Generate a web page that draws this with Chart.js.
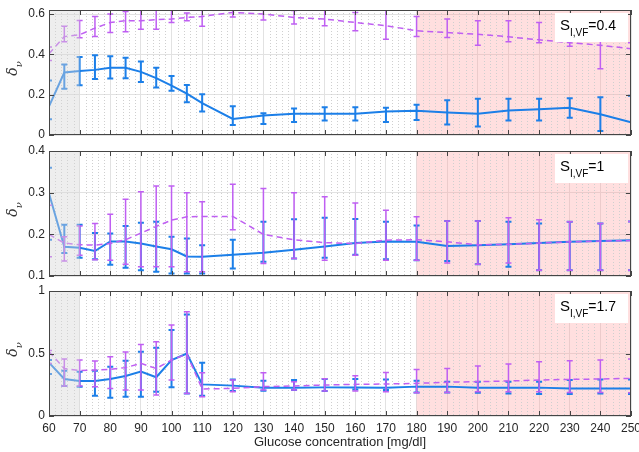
<!DOCTYPE html>
<html>
<head>
<meta charset="utf-8">
<script src="https://cdn.jsdelivr.net/npm/chart.js@4.4.1/dist/chart.umd.min.js"></script>
<style>
  body { margin: 0; background: #fff; }
  #wrap { position: relative; width: 639px; height: 452px; }
  canvas { position: absolute; left: 0; }
</style>
</head>
<body>
<div id="wrap">
  <canvas id="c1" width="639" height="140" style="top:0px"></canvas>
  <canvas id="c2" width="639" height="140" style="top:140px"></canvas>
  <canvas id="c3" width="639" height="172" style="top:280px"></canvas>
</div>
<script>
// glucose levels [mg/dl]
const glucose = [60, 65, 70, 75, 80, 85, 90, 95, 100, 105, 110, 120, 130, 140, 150, 160, 170, 180, 190, 200, 210, 220, 230, 240, 250];
const xTicks = [60, 70, 80, 90, 100, 110, 120, 130, 140, 150, 160, 170, 180, 190, 200, 210, 220, 230, 240, 250];

// S_I,VF = 0.4
const topBlue     = [0.142, 0.31, 0.317, 0.323, 0.333, 0.333, 0.313, 0.282, 0.245, 0.205, 0.158, 0.08, 0.097, 0.105, 0.105, 0.105, 0.117, 0.12, 0.112, 0.105, 0.122, 0.128, 0.135, 0.103, 0.063];
const topBlueLo   = [0.078, 0.23, 0.247, 0.278, 0.28, 0.282, 0.263, 0.235, 0.22, 0.163, 0.117, 0.05, 0.055, 0.065, 0.072, 0.072, 0.065, 0.075, 0.052, 0.042, 0.072, 0.072, 0.085, 0.02, -0.05];
const topBlueHi   = [0.27, 0.35, 0.387, 0.395, 0.39, 0.383, 0.365, 0.333, 0.293, 0.248, 0.202, 0.142, 0.108, 0.132, 0.138, 0.138, 0.135, 0.15, 0.172, 0.18, 0.18, 0.18, 0.182, 0.187, 0.195];
const topPurple   = [0.403, 0.488, 0.497, 0.53, 0.558, 0.567, 0.567, 0.572, 0.575, 0.583, 0.588, 0.608, 0.6, 0.583, 0.575, 0.558, 0.542, 0.517, 0.508, 0.5, 0.487, 0.472, 0.458, 0.445, 0.428];
const topPurpleLo = [0.37, 0.462, 0.482, 0.488, 0.508, 0.512, 0.525, 0.525, 0.558, 0.567, 0.54, 0.585, 0.57, 0.55, 0.542, 0.517, 0.475, 0.488, 0.483, 0.445, 0.463, 0.458, 0.44, 0.328, -0.05];
const topPurpleHi = [0.437, 0.54, 0.568, 0.588, 0.6, 0.613, 0.63, 0.63, 0.62, 0.605, 0.63, 0.63, 0.63, 0.617, 0.63, 0.608, 0.62, 0.588, 0.575, 0.567, 0.567, 0.558, 0.52, 0.467, 0.458];

// S_I,VF = 1
const midBlue     = [0.298, 0.17, 0.168, 0.16, 0.183, 0.183, 0.178, 0.171, 0.164, 0.147, 0.146, 0.151, 0.156, 0.163, 0.171, 0.179, 0.183, 0.182, 0.172, 0.174, 0.176, 0.179, 0.182, 0.184, 0.186];
const midBlueLo   = [0.187, 0.155, 0.144, 0.14, 0.127, 0.12, 0.114, 0.11, 0.106, 0.106, 0.106, 0.118, 0.134, 0.142, 0.144, 0.151, 0.14, 0.138, 0.136, 0.128, 0.122, 0.114, 0.114, 0.114, 0.114];
const midBlueHi   = [0.36, 0.223, 0.223, 0.203, 0.202, 0.22, 0.228, 0.23, 0.194, 0.19, 0.174, 0.187, 0.23, 0.236, 0.24, 0.237, 0.23, 0.221, 0.232, 0.232, 0.23, 0.226, 0.23, 0.226, 0.231];
const midPurple   = [0.2, 0.179, 0.175, 0.174, 0.178, 0.187, 0.203, 0.219, 0.234, 0.242, 0.243, 0.243, 0.2, 0.187, 0.18, 0.178, 0.186, 0.187, 0.182, 0.175, 0.176, 0.179, 0.182, 0.184, 0.185];
const midPurpleLo = [0.146, 0.136, 0.15, 0.139, 0.138, 0.128, 0.122, 0.122, 0.122, 0.11, 0.11, 0.211, 0.13, 0.142, 0.138, 0.15, 0.138, 0.138, 0.131, 0.128, 0.131, 0.114, 0.114, 0.114, 0.114];
const midPurpleHi = [0.27, 0.194, 0.22, 0.226, 0.248, 0.284, 0.302, 0.316, 0.316, 0.3, 0.278, 0.32, 0.31, 0.3, 0.29, 0.275, 0.258, 0.242, 0.232, 0.232, 0.24, 0.235, 0.23, 0.226, 0.231];

// S_I,VF = 1.7
const botBlue     = [0.427, 0.296, 0.28, 0.28, 0.296, 0.32, 0.355, 0.31, 0.448, 0.5, 0.253, 0.243, 0.227, 0.227, 0.229, 0.229, 0.227, 0.235, 0.235, 0.227, 0.227, 0.227, 0.221, 0.221, 0.221];
const botBlueLo   = [0.336, 0.24, 0.235, 0.163, 0.147, 0.155, 0.155, 0.195, 0.23, 0.18, 0.163, 0.2, 0.203, 0.208, 0.2, 0.213, 0.208, 0.189, 0.189, 0.187, 0.181, 0.176, 0.176, 0.181, 0.176];
const botBlueHi   = [0.448, 0.363, 0.355, 0.363, 0.395, 0.443, 0.515, 0.547, 0.688, 0.813, 0.427, 0.293, 0.283, 0.288, 0.296, 0.296, 0.293, 0.283, 0.275, 0.275, 0.275, 0.275, 0.288, 0.293, 0.293];
const botPurple   = [0.515, 0.38, 0.363, 0.368, 0.373, 0.387, 0.421, 0.38, 0.448, 0.496, 0.216, 0.221, 0.235, 0.24, 0.248, 0.253, 0.256, 0.261, 0.27, 0.275, 0.28, 0.288, 0.293, 0.296, 0.301];
const botPurpleLo = [0.42, 0.24, 0.24, 0.235, 0.22, 0.208, 0.208, 0.168, 0.288, 0.18, 0.155, 0.195, 0.208, 0.208, 0.2, 0.2, 0.195, 0.187, 0.189, 0.195, 0.195, 0.195, 0.189, 0.189, 0.187];
const botPurpleHi = [0.525, 0.456, 0.448, 0.44, 0.475, 0.512, 0.573, 0.595, 0.728, 0.835, 0.347, 0.288, 0.347, 0.275, 0.299, 0.323, 0.349, 0.373, 0.381, 0.4, 0.416, 0.435, 0.443, 0.448, 0.456];

const yTicksTop = [0, 0.2, 0.4, 0.6];
const yTicksMid = [0.1, 0.2, 0.3, 0.4];
const yTicksBot = [0, 0.5, 1];
const panelLabels = ['0.4', '1', '1.7'];
const grayBand = [60, 70];
const pinkBand = [180, 250];

const BLUE = '#1c7fe8';
const PURPLE = '#bf5ff2';
const TEXT = '#262626';
const FONT = '"Liberation Sans", Arial, sans-serif';

const toXY = (ys) => ys.map((v, i) => ({ x: glucose[i], y: v }));

const panelDecor = {
  id: 'panelDecor',
  beforeDatasetsDraw(chart) {
    const { ctx, chartArea: a, scales: { x } } = chart;
    ctx.save();
    // pink band (hyperglycemia)
    const p0 = x.getPixelForValue(pinkBand[0]), p1 = x.getPixelForValue(pinkBand[1]);
    ctx.fillStyle = 'rgba(255,150,150,0.3)';
    ctx.fillRect(p0, a.top, p1 - p0, a.bottom - a.top);
    // minor dotted grid
    ctx.strokeStyle = '#cfcfcf';
    ctx.lineWidth = 1;
    ctx.setLineDash([1, 2]);
    for (let v = 62; v < 250; v += 2) {
      if (v % 10 === 0) continue;
      const px = Math.round(x.getPixelForValue(v)) + 0.5;
      ctx.beginPath();
      ctx.moveTo(px, a.top);
      ctx.lineTo(px, a.bottom);
      ctx.stroke();
    }
    ctx.restore();
  },
  afterDatasetDraw(chart, args) {
    const ds = chart.data.datasets[args.index];
    if (!ds.errLo) return;
    const { ctx, chartArea: a, scales: { x, y } } = chart;
    ctx.save();
    ctx.beginPath();
    ctx.rect(a.left, a.top, a.right - a.left, a.bottom - a.top);
    ctx.clip();
    ctx.strokeStyle = ds.borderColor;
    ctx.lineWidth = ds.barWidth;
    ctx.setLineDash([]);
    ds.data.forEach((p, i) => {
      const px = x.getPixelForValue(p.x);
      const y0 = y.getPixelForValue(ds.errLo[i]);
      const y1 = y.getPixelForValue(ds.errHi[i]);
      ctx.beginPath();
      ctx.moveTo(px, y0); ctx.lineTo(px, y1);
      ctx.moveTo(px - 3, y0); ctx.lineTo(px + 3, y0);
      ctx.moveTo(px - 3, y1); ctx.lineTo(px + 3, y1);
      ctx.stroke();
    });
    ctx.restore();
  },
  afterDatasetsDraw(chart) {
    const { ctx, chartArea: a, scales: { x, y } } = chart;
    ctx.save();
    // gray band (hypoglycemia), drawn over the data
    const g0 = x.getPixelForValue(grayBand[0]), g1 = x.getPixelForValue(grayBand[1]);
    ctx.fillStyle = 'rgba(215,215,215,0.42)';
    ctx.fillRect(g0, a.top, g1 - g0, a.bottom - a.top);
    // box + inward ticks
    ctx.strokeStyle = '#454545';
    ctx.lineWidth = 1;
    ctx.strokeRect(Math.round(a.left) + 0.5, Math.round(a.top) + 0.5, Math.round(a.right - a.left) - 1, Math.round(a.bottom - a.top) - 1);
    ctx.beginPath();
    x.ticks.forEach(t => {
      const px = Math.round(x.getPixelForValue(t.value)) + 0.5;
      ctx.moveTo(px, a.top); ctx.lineTo(px, a.top + 5);
      ctx.moveTo(px, a.bottom); ctx.lineTo(px, a.bottom - 5);
    });
    y.ticks.forEach(t => {
      const py = Math.round(y.getPixelForValue(t.value)) + 0.5;
      ctx.moveTo(a.left, py); ctx.lineTo(a.left + 5, py);
      ctx.moveTo(a.right, py); ctx.lineTo(a.right - 5, py);
    });
    ctx.stroke();
    ctx.restore();
  },
  afterDraw(chart, args, opts) {
    const { ctx, chartArea: a } = chart;
    ctx.save();
    // S_I,VF label box
    const bw = 73, bh = 29;
    const bx = a.right - 3 - bw, by = a.top + 3;
    ctx.fillStyle = '#fff';
    ctx.fillRect(bx, by, bw, bh);
    ctx.fillStyle = '#000';
    ctx.textBaseline = 'alphabetic';
    ctx.textAlign = 'left';
    ctx.font = '15px ' + FONT;
    let tx = bx + 5;
    const base = by + 17;
    ctx.fillText('S', tx, base);
    tx += ctx.measureText('S').width;
    ctx.font = '10px ' + FONT;
    ctx.fillText('I,VF', tx, base + 6);
    tx += ctx.measureText('I,VF').width;
    ctx.font = '14px ' + FONT;
    ctx.fillText('=' + opts.label, tx, base);
    // y axis label delta_nu
    const cy = (a.top + a.bottom) / 2 - 4;
    ctx.translate(17, cy);
    ctx.rotate(-Math.PI / 2);
    ctx.fillStyle = '#333';
    ctx.font = 'italic 14px "DejaVu Serif", serif';
    const wd = ctx.measureText('δ').width;
    ctx.font = 'italic 10px "DejaVu Serif", serif';
    const wn = ctx.measureText('ν').width;
    const sx = -(wd + wn) / 2;
    ctx.font = 'italic 14px "DejaVu Serif", serif';
    ctx.fillText('δ', sx, 0);
    ctx.font = 'italic 10px "DejaVu Serif", serif';
    ctx.fillText('ν', sx + wd, 5);
    ctx.restore();
  }
};

function makePanel(id, p) {
  const datasets = [
    {
      data: toXY(p.purple), errLo: p.purpleLo, errHi: p.purpleHi,
      borderColor: PURPLE, borderWidth: 1.5, borderDash: [6, 4], barWidth: 1.5,
      pointRadius: 0, tension: 0, order: 1
    },
    {
      data: toXY(p.blue), errLo: p.blueLo, errHi: p.blueHi,
      borderColor: BLUE, borderWidth: 2, barWidth: 2,
      pointRadius: 0, tension: 0, order: 2
    }
  ];
  return new Chart(document.getElementById(id), {
    type: 'line',
    data: { datasets },
    options: {
      responsive: false,
      animation: false,
      events: [],
      layout: { autoPadding: false, padding: { top: p.padTop, right: 8, left: 0, bottom: 0 } },
      plugins: { legend: { display: false }, tooltip: { enabled: false }, panelDecor: { label: p.label } },
      scales: {
        x: {
          type: 'linear', min: 60, max: 250,
          afterBuildTicks: (s) => { s.ticks = xTicks.map(v => ({ value: v })); },
          afterFit: (s) => {
            s.height = p.xHeight;
            s.paddingLeft = 0; s.paddingRight = 0;
          },
          grid: { color: '#e2e2e2', drawTicks: false },
          border: { display: false },
          ticks: { display: p.showX, padding: 5, color: TEXT, font: { family: FONT, size: 12 } },
          title: {
            display: p.showX, text: 'Glucose concentration [mg/dl]', color: TEXT,
            font: { family: FONT, size: 13 }, padding: { top: 0, bottom: 2 }
          }
        },
        y: {
          min: p.ymin, max: p.ymax,
          afterBuildTicks: (s) => { s.ticks = p.yTicks.map(v => ({ value: v })); },
          afterFit: (s) => {
            s.width = 49;
            s.paddingTop = 0; s.paddingBottom = 0;
          },
          grid: { color: '#e2e2e2', drawTicks: false },
          border: { display: false },
          ticks: {
            padding: 4, color: TEXT, font: { family: FONT, size: 12 },
            callback: (v) => String(+Number(v).toFixed(2))
          }
        }
      }
    },
    plugins: [panelDecor]
  });
}

makePanel('c1', {
  blue: topBlue, blueLo: topBlueLo, blueHi: topBlueHi,
  purple: topPurple, purpleLo: topPurpleLo, purpleHi: topPurpleHi,
  ymin: 0, ymax: 0.62, yTicks: yTicksTop, label: panelLabels[0],
  padTop: 10, xHeight: 5, showX: false
});
makePanel('c2', {
  blue: midBlue, blueLo: midBlueLo, blueHi: midBlueHi,
  purple: midPurple, purpleLo: midPurpleLo, purpleHi: midPurpleHi,
  ymin: 0.1, ymax: 0.4, yTicks: yTicksMid, label: panelLabels[1],
  padTop: 11, xHeight: 4, showX: false
});
makePanel('c3', {
  blue: botBlue, blueLo: botBlueLo, blueHi: botBlueHi,
  purple: botPurple, purpleLo: botPurpleLo, purpleHi: botPurpleHi,
  ymin: 0, ymax: 1, yTicks: yTicksBot, label: panelLabels[2],
  padTop: 11, xHeight: 36, showX: true
});
</script>
</body>
</html>
